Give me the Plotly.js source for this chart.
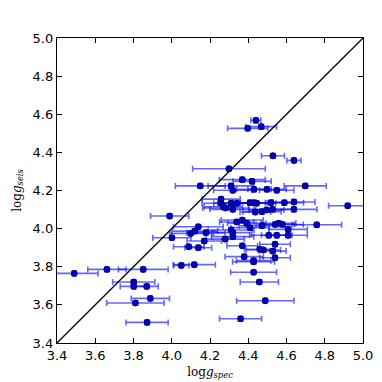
<!DOCTYPE html>
<html>
<head>
<meta charset="utf-8">
<script src="https://cdn.plot.ly/plotly-3.0.1.min.js"></script>
<style>
  html, body { margin: 0; padding: 0; background: #fff; }
  #grafica { width: 382px; height: 382px; }
</style>
</head>
<body>
<div id="grafica"></div>
<script>
// log g espectroscópico vs sismológico
const loggSpec = [
    4.44, 4.397, 4.468, 4.529, 4.639, 4.299, 4.369, 4.42, 4.149, 4.31,
    4.698, 4.319, 4.43, 4.498, 4.549, 4.258, 4.258, 4.27, 4.282, 4.31,
    4.34, 4.319, 4.409, 4.444, 4.437, 4.472, 4.496, 4.528, 4.519, 4.589,
    4.639, 4.639, 4.92, 3.989, 4.34, 4.369, 4.392, 4.409, 4.472, 4.541,
    4.559, 4.578, 4.758, 4.609, 4.139, 4.12, 4.099, 4.179, 4.001, 4.17,
    4.089, 4.139, 4.31, 4.319, 4.319, 4.28, 4.507, 4.549, 4.609, 4.54,
    4.369, 4.479, 4.528, 4.379, 4.428, 4.54, 4.05, 4.118, 4.428, 4.428,
    4.458, 3.851, 3.661, 3.49, 3.801, 3.801, 3.869, 3.888, 3.81, 4.489,
    4.36, 3.871, 4.46, 4.43
];
const loggSeis = [
    4.568, 4.526, 4.535, 4.382, 4.358, 4.314, 4.257, 4.248, 4.224, 4.224,
    4.224, 4.201, 4.206, 4.206, 4.201, 4.155, 4.133, 4.115, 4.108, 4.133,
    4.133, 4.101, 4.136, 4.133, 4.087, 4.089, 4.098, 4.101, 4.136, 4.136,
    4.14, 4.101, 4.12, 4.066, 4.035, 4.045, 4.028, 4.005, 4.015, 4.022,
    4.028, 4.022, 4.02, 3.996, 4.01, 3.987, 3.975, 3.979, 3.952, 3.935,
    3.905, 3.9, 3.993, 3.979, 3.958, 3.945, 3.965, 3.965, 3.965, 3.918,
    3.91, 3.888, 3.882, 3.853, 3.832, 3.847, 3.807, 3.811, 3.826, 3.771,
    3.72, 3.786, 3.786, 3.765, 3.72, 3.697, 3.697, 3.634, 3.61, 3.622,
    3.527, 3.508, 3.892, 4.136
];
const errSpec = [
    0.026, 0.105, 0.08, 0.06, 0.037, 0.19, 0.12, 0.1, 0.13, 0.12,
    0.11, 0.1, 0.09, 0.1, 0.09, 0.1, 0.1, 0.1, 0.12, 0.09,
    0.1, 0.12, 0.09, 0.1, 0.08, 0.1, 0.09, 0.1, 0.12, 0.1,
    0.11, 0.12, 0.1, 0.1, 0.09, 0.11, 0.1, 0.1, 0.12, 0.1,
    0.09, 0.11, 0.13, 0.1, 0.13, 0.12, 0.11, 0.1, 0.1, 0.09,
    0.08, 0.07, 0.12, 0.1, 0.11, 0.1, 0.1, 0.08, 0.1, 0.08,
    0.08, 0.09, 0.07, 0.1, 0.09, 0.08, 0.04, 0.11, 0.11, 0.12,
    0.1, 0.13, 0.1, 0.125, 0.11, 0.07, 0.06, 0.1, 0.15, 0.15,
    0.11, 0.11, 0.08, 0.09
];
const errSeis = loggSpec.map(() => 0.012);

const rango = [3.4, 5.0];
const ticks = [3.4, 3.6, 3.8, 4.0, 4.2, 4.4, 4.6, 4.8, 5.0];

const puntos = {
    x: loggSpec,
    y: loggSeis,
    type: 'scatter',
    mode: 'markers',
    marker: { color: '#0000d0', size: 6, line: { color: '#000060', width: 1 } },
    error_x: { type: 'data', array: errSpec, visible: true, color: 'rgba(0,0,255,0.6)', thickness: 1.6, width: 3 },
    error_y: { type: 'data', array: errSeis, visible: true, color: 'rgba(0,0,255,0.6)', thickness: 1.6, width: 3 },
    hoverinfo: 'x+y',
    showlegend: false
};

const diagonal = {
    x: rango,
    y: rango,
    type: 'scatter',
    mode: 'lines',
    line: { color: '#000', width: 1.3 },
    showlegend: false
};

const eje = {
    range: rango,
    tickvals: ticks,
    ticktext: ticks.map(v => v.toFixed(1)),
    ticks: 'inside',
    ticklen: 5,
    tickcolor: '#000',
    showline: true,
    linecolor: '#000',
    linewidth: 1.2,
    mirror: 'ticks',
    showgrid: false,
    zeroline: false,
    tickfont: { family: 'DejaVu Sans', size: 13, color: '#000' }
};

const layout = {
    width: 382,
    height: 382,
    margin: { l: 57, r: 19, t: 38, b: 39 },
    paper_bgcolor: '#fff',
    plot_bgcolor: '#fff',
    xaxis: Object.assign({}, eje, {
        title: { text: 'log<i>g</i><sub><i>spec</i></sub>', standoff: 5,
                 font: { family: 'DejaVu Serif', size: 12, color: '#000' } }
    }),
    yaxis: Object.assign({}, eje, {
        title: { text: 'log<i>g</i><sub><i>seis</i></sub>', standoff: 8,
                 font: { family: 'DejaVu Serif', size: 12, color: '#000' } }
    })
};

Plotly.newPlot('grafica', [puntos, diagonal], layout, { displayModeBar: false, staticPlot: true });
</script>
</body>
</html>
